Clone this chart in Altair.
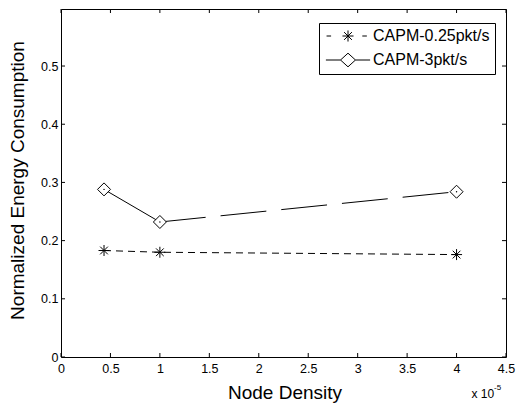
import altair as alt
import pandas as pd

# ---- data ----
x_vals = [0.435, 1.0, 4.0]
star_vals = [0.183, 0.180, 0.176]      # CAPM-0.25pkt/s
diamond_vals = [0.288, 0.232, 0.284]   # CAPM-3pkt/s
series_names = ["CAPM-0.25pkt/s", "CAPM-3pkt/s"]
x_ticks = [0, 0.5, 1, 1.5, 2, 2.5, 3, 3.5, 4, 4.5]
y_ticks = [0, 0.1, 0.2, 0.3, 0.4, 0.5]
x_title = "Node Density"
y_title = "Normalized Energy Consumption"
exp_base = ["x 10"]
exp_power = ["-5"]

W, H = 445, 348
FONT = "Liberation Sans"

xscale = alt.Scale(domain=[0, 4.5], nice=False, zero=False)
yscale = alt.Scale(domain=[0, 0.598], nice=False, zero=False)

xaxis = alt.Axis(values=x_ticks, format="~g", ticks=False, domain=False, grid=False,
                 labelFont=FONT, labelFontSize=12.5, labelColor="black", labelPadding=5,
                 labelFlush=False, labelOverlap=False,
                 titleFont=FONT, titleFontSize=19, titleFontWeight="normal", titleColor="black",
                 titleX=W / 2 + 1, titleY=41, titleBaseline="alphabetic", titleAlign="center")
yaxis = alt.Axis(values=y_ticks, format="~g", ticks=False, domain=False, grid=False,
                 labelFont=FONT, labelFontSize=12.5, labelColor="black", labelPadding=3,
                 labelFlush=False, labelOverlap=False,
                 titleFont=FONT, titleFontSize=19, titleFontWeight="normal", titleColor="black",
                 titleX=-38, titleY=171, titleBaseline="alphabetic", titleAlign="center",
                 titleAngle=270)


def X():
    return alt.X("x:Q", scale=xscale, axis=xaxis, title=x_title)


def Y():
    return alt.Y("y:Q", scale=yscale, axis=yaxis, title=y_title)


star_df = pd.DataFrame({"x": x_vals, "y": star_vals})
dia_df = pd.DataFrame({"x": x_vals, "y": diamond_vals})
dia_a = dia_df.iloc[0:2]
dia_b = dia_df.iloc[1:3]

asterisk = "M-1,0L1,0M0,-1L0,1M-0.7,-0.7L0.7,0.7M-0.7,0.7L0.7,-0.7"

star_line = alt.Chart(star_df).mark_line(color="black", strokeWidth=1, strokeDash=[7, 5]).encode(x=X(), y=Y())
dia_line_a = alt.Chart(dia_a).mark_line(color="black", strokeWidth=1).encode(x=X(), y=Y())
dia_line_b = alt.Chart(dia_b).mark_line(color="black", strokeWidth=1, strokeDash=[46, 15]).encode(x=X(), y=Y())

star_pts = alt.Chart(star_df).mark_point(shape=asterisk, size=121, filled=False, color="black",
                                         strokeWidth=1, opacity=1).encode(x=X(), y=Y())
dia_pts = alt.Chart(dia_df).mark_point(shape="diamond", size=169, filled=True, fill="white",
                                       stroke="black", strokeWidth=1, opacity=1).encode(x=X(), y=Y())
dia_dot = alt.Chart(dia_df).mark_point(shape="circle", size=2, filled=True, color="black",
                                       opacity=1).encode(x=X(), y=Y())

# legend: symbols that draw line + marker
leg_star = ("M-3.3,0L-2.6,0M2.2,0L2.9,0"
            "M-0.85,0L0.85,0M0,-0.85L0,0.85M-0.6,-0.6L0.6,0.6M-0.6,0.6L0.6,-0.6")
leg_dia = "M-3.4,0L-1.15,0M1.15,0L3.4,0M0,-1.05L1.15,0L0,1.05L-1.15,0Z"
leg_df = pd.DataFrame({"x": x_vals[:2], "y": star_vals[:2], "series": series_names})
legend_layer = alt.Chart(leg_df).transform_filter("false").mark_point(
    filled=False, color="black", strokeWidth=1, size=169, opacity=1
).encode(
    x=X(), y=Y(),
    shape=alt.Shape("series:N",
                    scale=alt.Scale(domain=series_names, range=[leg_star, leg_dia]),
                    legend=alt.Legend(title=None, orient="none", legendX=258, legendY=14,
                                      padding=5, strokeColor="black", fillColor="white",
                                      cornerRadius=0, symbolSize=169, symbolStrokeWidth=1,
                                      symbolStrokeColor="black", symbolFillColor="transparent",
                                      symbolOffset=16, labelOffset=17, labelFont=FONT,
                                      labelFontSize=16, labelColor="black", rowPadding=7,
                                      labelLimit=400))
)

# inward tick marks on all four sides
xt_df = pd.DataFrame({"x": x_ticks})
yt_df = pd.DataFrame({"y": y_ticks})
tick_b = alt.Chart(xt_df).mark_rule(color="black", strokeWidth=1).encode(x=X(), y=alt.value(H), y2=alt.value(H - 4))
tick_t = alt.Chart(xt_df).mark_rule(color="black", strokeWidth=1).encode(x=X(), y=alt.value(0), y2=alt.value(4))
tick_l = alt.Chart(yt_df).mark_rule(color="black", strokeWidth=1).encode(y=Y(), x=alt.value(0), x2=alt.value(4))
tick_r = alt.Chart(yt_df).mark_rule(color="black", strokeWidth=1).encode(y=Y(), x=alt.value(W - 4), x2=alt.value(W))

exp1 = alt.Chart(pd.DataFrame({"t": exp_base})).mark_text(
    font=FONT, fontSize=12, color="black", align="left", baseline="alphabetic"
).encode(text="t:N", x=alt.value(410.5), y=alt.value(389))
exp2 = alt.Chart(pd.DataFrame({"t": exp_power})).mark_text(
    font=FONT, fontSize=8, color="black", align="left", baseline="alphabetic"
).encode(text="t:N", x=alt.value(433), y=alt.value(381))

chart = alt.layer(
    tick_b, tick_t, tick_l, tick_r,
    star_line, dia_line_a, dia_line_b,
    star_pts, dia_pts, dia_dot,
    legend_layer, exp1, exp2
).properties(
    width=W, height=H,
    padding={"left": 61, "top": 9, "right": 10, "bottom": 46},
    autosize=alt.AutoSizeParams(type="none"),
    background="white",
).configure_view(stroke="black", strokeWidth=1)

chart.save("out.html", embed_options={"renderer": "svg", "actions": False})
